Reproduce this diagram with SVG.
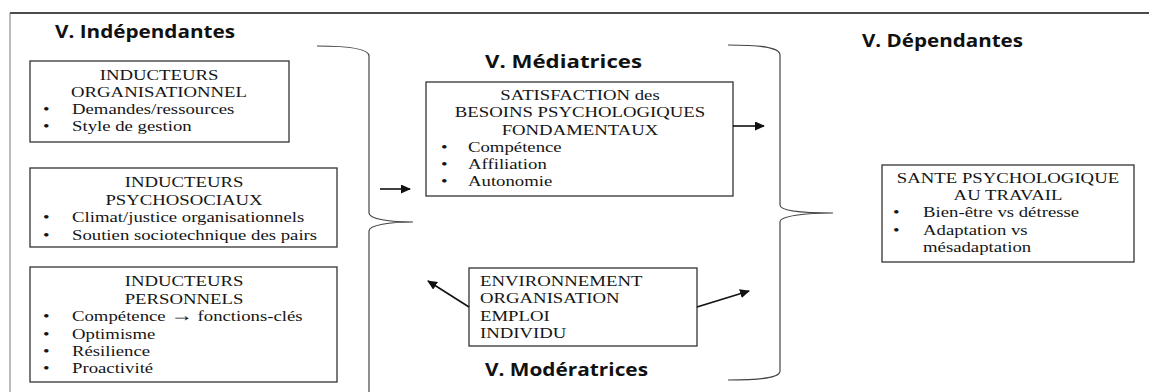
<svg xmlns="http://www.w3.org/2000/svg" width="1149" height="392" viewBox="0 0 1149 392">
<style>
.t{font-family:"Liberation Serif","Times New Roman","DejaVu Serif",serif;font-size:15px;fill:#151515}
.c{text-anchor:middle}
.h{font-family:"Open Sans","Liberation Sans",sans-serif;font-size:17px;font-weight:bold;fill:#111}
.box{fill:#fff;stroke:#333;stroke-width:1.3}
.brace{fill:none;stroke:#444;stroke-width:1.2}
.arr{fill:none;stroke:#111;stroke-width:1.6}
</style>
<defs>
<marker id="ah" markerUnits="userSpaceOnUse" markerWidth="10" markerHeight="9" refX="9" refY="4.5" orient="auto">
<path d="M0,0 L10,4.5 L0,9 z" fill="#111"/>
</marker>
</defs>
<rect width="1149" height="392" fill="#fff"/>
<g id="frame">
<line x1="10" y1="13" x2="1149" y2="13" stroke="#111" stroke-width="1.5"/>
<line x1="10" y1="13" x2="10" y2="392" stroke="#777" stroke-width="1"/>
</g>
<g id="headings">
<text class="h" x="55" y="38" textLength="180" lengthAdjust="spacingAndGlyphs">V. Indépendantes</text>
<text class="h" x="485" y="68" textLength="157" lengthAdjust="spacingAndGlyphs">V. Médiatrices</text>
<text class="h" x="862" y="47" textLength="161" lengthAdjust="spacingAndGlyphs">V. Dépendantes</text>
<text class="h" x="485" y="376" textLength="163" lengthAdjust="spacingAndGlyphs">V. Modératrices</text>
</g>
<g id="braces">
<path class="brace" d="M317,46 C345,46 369,48 369,56 L369,213 C369,219 390,222 413,222 C390,222 369,225 369,231 L369,392"/>
<path class="brace" d="M728,45 C760,45 780,47 780,55 L780,205 C780,211 805,213 833,213 C805,213 780,216 780,222 L780,371 C780,378 760,380 728,380"/>
</g>
<g id="node-org">
<rect class="box" x="30" y="61" width="259" height="81"/>
<text class="t c" transform="matrix(1.25 0 0 1 159 80)">INDUCTEURS</text>
<text class="t c" transform="matrix(1.25 0 0 1 159 97)">ORGANISATIONNEL</text>
<text class="t" transform="matrix(1.25 0 0 1 43 114)">•</text>
<text class="t" transform="matrix(1.25 0 0 1 72 114)">Demandes/ressources</text>
<text class="t" transform="matrix(1.25 0 0 1 43 131)">•</text>
<text class="t" transform="matrix(1.25 0 0 1 72 131)">Style de gestion</text>
</g>
<g id="node-psycho">
<rect class="box" x="30" y="168" width="307" height="79"/>
<text class="t c" transform="matrix(1.25 0 0 1 184 187)">INDUCTEURS</text>
<text class="t c" transform="matrix(1.25 0 0 1 184 205)">PSYCHOSOCIAUX</text>
<text class="t" transform="matrix(1.25 0 0 1 43 222)">•</text>
<text class="t" transform="matrix(1.25 0 0 1 72 222)">Climat/justice organisationnels</text>
<text class="t" transform="matrix(1.25 0 0 1 43 240)">•</text>
<text class="t" transform="matrix(1.25 0 0 1 72 240)">Soutien sociotechnique des pairs</text>
</g>
<g id="node-perso">
<rect class="box" x="30" y="267" width="307" height="115"/>
<text class="t c" transform="matrix(1.25 0 0 1 184 286)">INDUCTEURS</text>
<text class="t c" transform="matrix(1.25 0 0 1 184 304)">PERSONNELS</text>
<text class="t" transform="matrix(1.25 0 0 1 43 321)">•</text>
<text class="t" transform="matrix(1.25 0 0 1 72 321)">Compétence <tspan font-size="18" font-weight="bold">→</tspan> fonctions-clés</text>
<text class="t" transform="matrix(1.25 0 0 1 43 339)">•</text>
<text class="t" transform="matrix(1.25 0 0 1 72 339)">Optimisme</text>
<text class="t" transform="matrix(1.25 0 0 1 43 356)">•</text>
<text class="t" transform="matrix(1.25 0 0 1 72 356)">Résilience</text>
<text class="t" transform="matrix(1.25 0 0 1 43 373)">•</text>
<text class="t" transform="matrix(1.25 0 0 1 72 373)">Proactivité</text>
</g>
<g id="node-mediatrices">
<rect class="box" x="426" y="82" width="307" height="114"/>
<text class="t c" transform="matrix(1.25 0 0 1 580 100)">SATISFACTION des</text>
<text class="t c" transform="matrix(1.25 0 0 1 580 117)">BESOINS PSYCHOLOGIQUES</text>
<text class="t c" transform="matrix(1.25 0 0 1 580 135)">FONDAMENTAUX</text>
<text class="t" transform="matrix(1.25 0 0 1 441 152)">•</text>
<text class="t" transform="matrix(1.25 0 0 1 468 152)">Compétence</text>
<text class="t" transform="matrix(1.25 0 0 1 441 169)">•</text>
<text class="t" transform="matrix(1.25 0 0 1 468 169)">Affiliation</text>
<text class="t" transform="matrix(1.25 0 0 1 441 186)">•</text>
<text class="t" transform="matrix(1.25 0 0 1 468 186)">Autonomie</text>
</g>
<g id="node-moderatrices">
<rect class="box" x="469" y="268" width="228" height="78"/>
<text class="t" transform="matrix(1.25 0 0 1 480 286)">ENVIRONNEMENT</text>
<text class="t" transform="matrix(1.25 0 0 1 480 303)">ORGANISATION</text>
<text class="t" transform="matrix(1.25 0 0 1 480 321)">EMPLOI</text>
<text class="t" transform="matrix(1.25 0 0 1 480 338)">INDIVIDU</text>
</g>
<g id="node-sante">
<rect class="box" x="882" y="165" width="252" height="97"/>
<text class="t c" transform="matrix(1.25 0 0 1 1008 183)">SANTE PSYCHOLOGIQUE</text>
<text class="t c" transform="matrix(1.25 0 0 1 1008 200)">AU TRAVAIL</text>
<text class="t" transform="matrix(1.25 0 0 1 893 217)">•</text>
<text class="t" transform="matrix(1.25 0 0 1 923 217)">Bien-être vs détresse</text>
<text class="t" transform="matrix(1.25 0 0 1 893 235)">•</text>
<text class="t" transform="matrix(1.25 0 0 1 923 235)">Adaptation vs</text>
<text class="t" transform="matrix(1.25 0 0 1 923 252)">mésadaptation</text>
</g>
<g id="connectors">
<line class="arr" x1="380" y1="189" x2="410" y2="189" marker-end="url(#ah)"/>
<line class="arr" x1="733" y1="126" x2="764" y2="126" marker-end="url(#ah)"/>
<line class="arr" x1="469" y1="307" x2="428" y2="281" marker-end="url(#ah)"/>
<line class="arr" x1="697" y1="307" x2="749" y2="291" marker-end="url(#ah)"/>
</g>
</svg>
